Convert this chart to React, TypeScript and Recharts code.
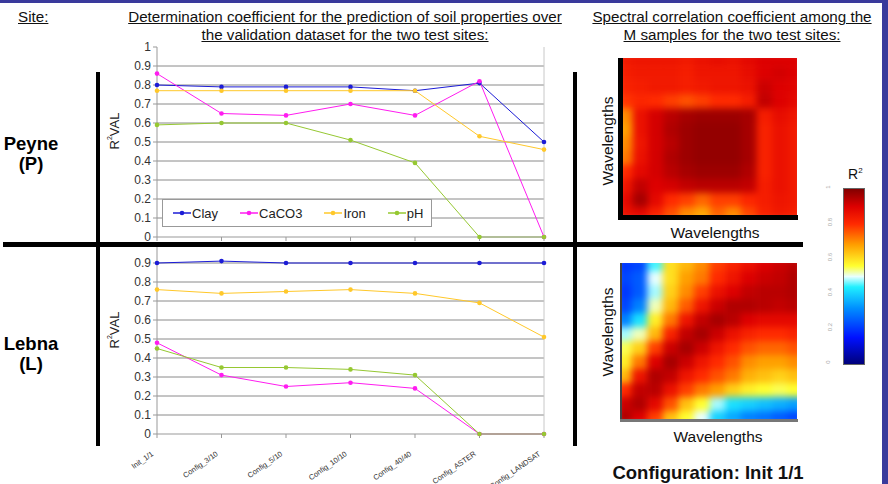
import { CartesianGrid, Line, LineChart, ReferenceLine, Scatter, ScatterChart, XAxis, YAxis } from "recharts";

// categories on the x axis
const configs = ['Init_1/1', 'Config_3/10', 'Config_5/10', 'Config_10/10', 'Config_40/40', 'Config_ASTER', 'Config_LANDSAT'];
const yTicks = [0, 0.1, 0.2, 0.3, 0.4, 0.5, 0.6, 0.7, 0.8, 0.9, 1];
const yTicksLow = [0, 0.1, 0.2, 0.3, 0.4, 0.5, 0.6, 0.7, 0.8, 0.9];
const gridTicks = [0.1, 0.2, 0.3, 0.4, 0.5, 0.6, 0.7, 0.8, 0.9];

// Peyne (P)
const peyneClay = [0.80, 0.79, 0.79, 0.79, 0.77, 0.81, 0.50];
const peyneCaCO3 = [0.86, 0.65, 0.64, 0.70, 0.64, 0.82, 0.00];
const peyneIron = [0.77, 0.77, 0.77, 0.77, 0.77, 0.53, 0.46];
const peynePH = [0.59, 0.60, 0.60, 0.51, 0.39, 0.00, 0.00];

// Lebna (L)
const lebnaClay = [0.90, 0.91, 0.90, 0.90, 0.90, 0.90, 0.90];
const lebnaCaCO3 = [0.48, 0.31, 0.25, 0.27, 0.24, 0.00, 0.00];
const lebnaIron = [0.76, 0.74, 0.75, 0.76, 0.74, 0.69, 0.51];
const lebnaPH = [0.45, 0.35, 0.35, 0.34, 0.31, 0.00, 0.00];

// spectral correlation matrices (rows top -> bottom)
const peyneCorr = [
  [0.84, 0.85, 0.85, 0.85, 0.84, 0.86, 0.87, 0.86, 0.88, 0.90, 0.90, 0.90],
  [0.83, 0.84, 0.84, 0.84, 0.83, 0.85, 0.85, 0.85, 0.87, 0.90, 0.91, 0.90],
  [0.82, 0.83, 0.84, 0.84, 0.83, 0.84, 0.85, 0.85, 0.86, 0.92, 0.90, 0.89],
  [0.79, 0.81, 0.80, 0.78, 0.76, 0.78, 0.80, 0.80, 0.83, 0.93, 0.90, 0.88],
  [0.70, 0.86, 0.91, 0.94, 0.96, 0.97, 0.97, 0.97, 0.96, 0.83, 0.87, 0.85],
  [0.68, 0.86, 0.91, 0.95, 0.97, 0.98, 0.98, 0.98, 0.96, 0.82, 0.86, 0.84],
  [0.70, 0.85, 0.91, 0.94, 0.97, 0.98, 0.98, 0.98, 0.96, 0.82, 0.86, 0.84],
  [0.72, 0.86, 0.91, 0.95, 0.97, 0.98, 0.98, 0.98, 0.96, 0.82, 0.86, 0.84],
  [0.80, 0.88, 0.91, 0.94, 0.96, 0.97, 0.97, 0.97, 0.95, 0.82, 0.86, 0.84],
  [0.85, 0.93, 0.90, 0.91, 0.93, 0.94, 0.94, 0.94, 0.93, 0.83, 0.86, 0.84],
  [0.88, 0.96, 0.88, 0.80, 0.78, 0.74, 0.78, 0.78, 0.81, 0.83, 0.85, 0.84],
  [0.86, 0.88, 0.82, 0.76, 0.70, 0.67, 0.74, 0.70, 0.77, 0.82, 0.84, 0.83],
];
const lebnaCorr = [
  [0.20, 0.22, 0.45, 0.60, 0.65, 0.70, 0.78, 0.82, 0.86, 0.90, 0.92, 0.94],
  [0.22, 0.25, 0.50, 0.60, 0.68, 0.72, 0.80, 0.85, 0.90, 0.92, 0.93, 0.95],
  [0.20, 0.25, 0.48, 0.62, 0.70, 0.78, 0.86, 0.90, 0.93, 0.94, 0.94, 0.95],
  [0.22, 0.30, 0.52, 0.65, 0.75, 0.85, 0.92, 0.95, 0.95, 0.94, 0.93, 0.94],
  [0.30, 0.42, 0.58, 0.72, 0.85, 0.93, 0.96, 0.94, 0.90, 0.88, 0.88, 0.88],
  [0.48, 0.52, 0.65, 0.82, 0.93, 0.96, 0.92, 0.86, 0.82, 0.80, 0.80, 0.82],
  [0.55, 0.62, 0.78, 0.92, 0.96, 0.92, 0.85, 0.80, 0.76, 0.74, 0.74, 0.76],
  [0.58, 0.72, 0.90, 0.96, 0.92, 0.85, 0.80, 0.76, 0.70, 0.68, 0.68, 0.70],
  [0.65, 0.85, 0.95, 0.93, 0.85, 0.80, 0.76, 0.72, 0.66, 0.64, 0.62, 0.64],
  [0.80, 0.93, 0.94, 0.86, 0.78, 0.72, 0.68, 0.62, 0.58, 0.56, 0.55, 0.56],
  [0.92, 0.95, 0.88, 0.76, 0.64, 0.56, 0.48, 0.42, 0.40, 0.38, 0.36, 0.34],
  [0.95, 0.90, 0.78, 0.64, 0.56, 0.50, 0.40, 0.35, 0.30, 0.28, 0.25, 0.22],
];
const colorbarLabels = ['1', '0.8', '0.6', '0.4', '0.2', '0'];

const FONT = "Arial, 'Liberation Sans', sans-serif";

const series = [
  { key: 'clay', name: 'Clay', color: '#1c1cd6' },
  { key: 'caco3', name: 'CaCO3', color: '#ff1cf0' },
  { key: 'iron', name: 'Iron', color: '#ffc82a' },
  { key: 'ph', name: 'pH', color: '#96c832' },
];

const buildRows = (clay: number[], caco3: number[], iron: number[], ph: number[]) =>
  configs.map((name, i) => ({ name, clay: clay[i], caco3: caco3[i], iron: iron[i], ph: ph[i] }));

const peyneData = buildRows(peyneClay, peyneCaCO3, peyneIron, peynePH);
const lebnaData = buildRows(lebnaClay, lebnaCaCO3, lebnaIron, lebnaPH);

// jet-like colour map for R2
const jetStops: [number, string][] = [
  [0, '#00007a'], [0.15, '#0010ff'], [0.32, '#0090ff'], [0.44, '#20f0ff'], [0.5, '#e8ffff'],
  [0.56, '#ffff30'], [0.68, '#ffa000'], [0.8, '#ff2a00'], [0.9, '#dd0000'], [1, '#820000'],
];
const hex = (c: string) => [1, 3, 5].map(i => parseInt(c.slice(i, i + 2), 16));
const jet = (v: number) => {
  for (let i = 1; i < jetStops.length; i++) {
    const [t1, c1] = jetStops[i];
    const [t0, c0] = jetStops[i - 1];
    if (v <= t1) {
      const f = (v - t0) / (t1 - t0);
      const a = hex(c0), b = hex(c1);
      return `rgb(${a.map((x, k) => Math.round(x + (b[k] - x) * f)).join(',')})`;
    }
  }
  return jetStops[jetStops.length - 1][1];
};

const RLabel = ({ viewBox, shift }: any) => {
  const cx = viewBox.x + 14;
  const cy = viewBox.y + viewBox.height / 2 + (shift || 0);
  return (
    <text transform={`rotate(-90, ${cx}, ${cy})`} x={cx} y={cy} textAnchor="middle" dominantBaseline="central"
      fontSize={13} fill="#222" fontFamily={FONT}>
      R<tspan fontSize={7} dy={-5}>2</tspan><tspan dy={5}>VAL</tspan>
    </text>
  );
};

const ConfigTick = ({ x, y, payload }: any) => (
  <g transform={`translate(${x - 3}, ${y + 15}) rotate(-35)`}>
    <text x={0} y={0} textAnchor="end" fontSize={7.5} fill="#333" fontFamily={FONT}>{payload.value}</text>
  </g>
);

const SiteChart = ({ data, showLabels, labelShift }: { data: any[]; showLabels: boolean; labelShift: number }) => (
  <LineChart width={460} height={showLabels ? 247 : 210} data={data}
    margin={{ top: 7, right: 16, bottom: 0, left: 0 }}>
    <CartesianGrid vertical={false} stroke="#8a8a8a" horizontalValues={gridTicks} />
    <XAxis dataKey="name" height={showLabels ? 50 : 13} stroke="#999" tickSize={4} interval={0}
      tick={showLabels ? <ConfigTick /> : { fontSize: 1 }} tickFormatter={showLabels ? undefined : () => ''} />
    <YAxis domain={[0, 1]} ticks={showLabels ? yTicksLow : yTicks} interval={0} width={57} stroke="#999" tickSize={4}
      tick={{ fontSize: 12, fill: '#333', fontFamily: FONT }}
      label={{ content: (p: any) => <RLabel {...p} shift={labelShift} /> }} />
    <ReferenceLine x={configs[configs.length - 1]} stroke="#c8c8c8" />
    {series.map(s => (
      <Line key={s.key} dataKey={s.key} stroke={s.color} strokeWidth={1} type="linear"
        dot={{ r: 2.3, fill: s.color, stroke: s.color, strokeWidth: 0 }} isAnimationActive={false} />
    ))}
  </LineChart>
);

const HeatMap = ({ matrix, w, h }: { matrix: number[][]; w: number; h: number }) => {
  const rows = matrix.length;
  const cols = matrix[0].length;
  const cells = matrix.flatMap((row, r) => row.map((v, c) => ({ x: c + 0.5, y: r + 0.5, v })));
  const pad = 6;
  const cw = (w + 2 * pad) / cols;
  const ch = (h + 2 * pad) / rows;
  return (
    <div style={{ width: w, height: h, overflow: 'hidden', position: 'relative' }}>
      <div style={{ position: 'absolute', left: -pad, top: -pad, filter: 'blur(3.5px)' }}>
        <ScatterChart width={w + 2 * pad} height={h + 2 * pad} margin={{ top: 0, right: 0, bottom: 0, left: 0 }}>
          <XAxis type="number" dataKey="x" domain={[0, cols]} hide />
          <YAxis type="number" dataKey="y" domain={[0, rows]} reversed hide width={0} />
          <Scatter data={cells} isAnimationActive={false}
            shape={(p: any) => (
              <rect x={p.cx - cw / 2} y={p.cy - ch / 2} width={cw + 0.6} height={ch + 0.6} fill={jet(p.payload.v)} />
            )} />
        </ScatterChart>
      </div>
    </div>
  );
};

const abs = (left: number, top: number, extra: any = {}) => ({ position: 'absolute' as const, left, top, ...extra });
const bar = (left: number, top: number, width: number, height: number) => (
  <div style={abs(left, top, { width, height, background: '#000' })} />
);

export default function App() {
  const titleStyle = { fontSize: 15.2, textDecoration: 'underline', color: '#111', textAlign: 'center' as const, lineHeight: '18px', whiteSpace: 'nowrap' as const };
  const waveStyle = { fontSize: 15.5, whiteSpace: 'nowrap', color: '#111' };
  return (
    <div style={{ position: 'absolute', left: 0, top: 0, width: 888, height: 484, overflow: 'hidden', background: '#fff', fontFamily: FONT }}>
      {/* frame */}
      <div style={abs(0, 0, { width: 888, height: 3, background: '#3a3a9c' })} />
      <div style={abs(882, 0, { width: 6, height: 484, background: '#3a3a9c' })} />

      <div style={abs(18, 8, { ...titleStyle })}>Site:</div>
      <div style={abs(105, 8, { ...titleStyle, width: 480 })}>
        Determination coefficient for the prediction of soil properties over<br />the validation dataset for the two test sites:
      </div>
      <div style={abs(582, 8, { ...titleStyle, width: 300 })}>
        Spectral correlation coefficient among the<br />M samples for the two test sites:
      </div>

      <div style={abs(0, 134, { width: 62, textAlign: 'center', fontWeight: 'bold', fontSize: 18.5, lineHeight: '20px' })}>Peyne<br />(P)</div>
      <div style={abs(0, 334, { width: 62, textAlign: 'center', fontWeight: 'bold', fontSize: 18.5, lineHeight: '20px' })}>Lebna<br />(L)</div>

      <div style={abs(100, 40)}>
        <SiteChart data={peyneData} showLabels={false} labelShift={-11} />
      </div>
      <div style={abs(100, 237)}>
        <SiteChart data={lebnaData} showLabels={true} labelShift={-9} />
      </div>

      {/* legend of the Peyne chart */}
      <div style={abs(162, 199, { width: 268, height: 26, border: '1px solid #999', background: '#fff', display: 'flex', alignItems: 'center', fontSize: 13, color: '#222' })}>
        {series.map((s, i) => (
          <div key={s.key} style={{ display: 'flex', alignItems: 'center', marginLeft: i === 0 ? 10 : 22 }}>
            <svg width={18} height={8}>
              <line x1={0} y1={4} x2={18} y2={4} stroke={s.color} strokeWidth={1.5} />
              <circle cx={9} cy={4} r={2.3} fill={s.color} />
            </svg>
            <span style={{ marginLeft: 1 }}>{s.name}</span>
          </div>
        ))}
      </div>

      {/* heat maps */}
      <div style={abs(623, 58)}><HeatMap matrix={peyneCorr} w={174} h={157} /></div>
      <div style={abs(622, 263)}><HeatMap matrix={lebnaCorr} w={175} h={156} /></div>
      {bar(618, 58, 5, 162)}
      {bar(618, 215, 180, 5)}
      <div style={abs(620, 263, { width: 2, height: 158, background: '#444' })} />
      <div style={abs(620, 419, { width: 178, height: 3, background: '#777' })} />

      <div style={abs(608, 141, { ...waveStyle, transform: 'translate(-50%, -50%) rotate(-90deg)' })}>Wavelengths</div>
      <div style={abs(608, 332, { ...waveStyle, transform: 'translate(-50%, -50%) rotate(-90deg)' })}>Wavelengths</div>
      <div style={abs(715, 233, { ...waveStyle, transform: 'translate(-50%, -50%)' })}>Wavelengths</div>
      <div style={abs(718, 437, { ...waveStyle, transform: 'translate(-50%, -50%)' })}>Wavelengths</div>

      {/* colour bar */}
      <div style={abs(848, 166, { fontSize: 14, color: '#111' })}>R<sup style={{ fontSize: 8 }}>2</sup></div>
      <div style={abs(843, 188, {
        width: 20, height: 175, border: '1px solid #666',
        background: `linear-gradient(to top, ${jetStops.map(([t, c]) => `${c} ${t * 100}%`).join(', ')})`,
      })} />
      {colorbarLabels.map((t, i) => (
        <div key={t} style={abs(826, 184 + i * 35, { fontSize: 6, color: '#aaa', transform: 'rotate(-90deg)' })}>{t}</div>
      ))}

      <div style={abs(708, 473, { transform: 'translate(-50%, -50%)', fontSize: 18.5, fontWeight: 'bold', whiteSpace: 'nowrap', color: '#111' })}>Configuration: Init 1/1</div>

      {/* separators */}
      {bar(96, 72, 4, 374)}
      {bar(573, 72, 4, 374)}
      {bar(3, 242, 800, 5)}
    </div>
  );
}
